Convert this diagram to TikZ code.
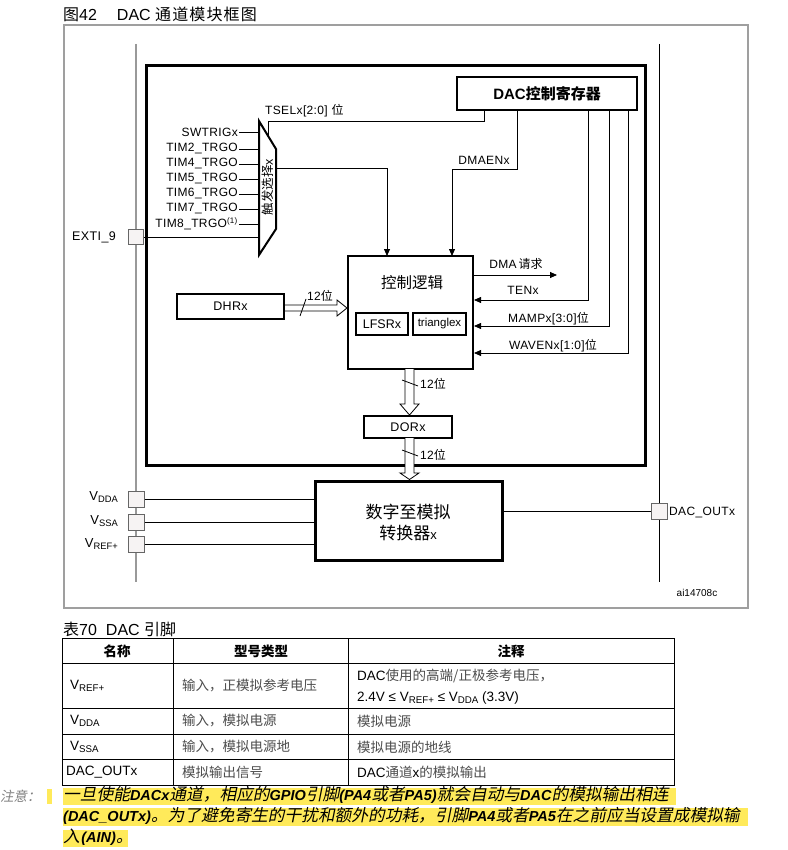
\documentclass[tikz,border=0pt]{standalone}
\usepackage{fontspec}
\setmainfont{Liberation Sans}
\newfontfamily\lbfont{Liberation Sans}[LetterSpace=3]
\newfontfamily\cjk{Noto Sans CJK SC}
\newfontfamily\cjksp{Noto Sans CJK SC}[LetterSpace=7]
\newfontfamily\cjkit{Noto Sans CJK SC}[FakeSlant=0.2]
\usetikzlibrary{arrows.meta}
\newcommand\zh[1]{{\cjk #1}}
\newcommand\zhs[1]{{\cjksp #1}}
\newcommand\zhg[1]{{\color{black!70}\cjk #1}}
\newcommand\zi[1]{{\cjkit #1}}
\newcommand\li[1]{{\fontsize{14.5}{15}\selectfont\bfseries\itshape #1}}
\newcommand\sbx[1]{\raisebox{-0.3ex}{\scalebox{0.72}{#1}}}
\definecolor{hl}{RGB}{255,234,90}
\definecolor{pinfill}{RGB}{246,243,243}
\begin{document}
\begin{tikzpicture}[x=1pt,y=-1pt,
  wire/.style={line width=0.8pt},
  arr/.style={-{Triangle[length=7pt,width=6pt]}},
  blk/.style={draw, line width=2pt, inner sep=0pt},
  pinbox/.style={draw=gray!80!black, fill=pinfill, line width=1pt, minimum size=16pt, inner sep=0pt},
  lbl/.style={font=\lbfont\fontsize{12}{14}\selectfont, inner sep=1pt},
  tbl/.style={font=\fontsize{13.5}{16}\selectfont, inner sep=0pt},
  bus/.style={line width=0.8pt, fill=white},
  note/.style={anchor=west, inner sep=0pt, font=\fontsize{16.7}{21}\selectfont, text height=12pt, text depth=3pt},
  ]
\useasboundingbox (0,0) rectangle (787,850);
\fill[white] (0,0) rectangle (787,850);

% title
\node[anchor=west, font=\fontsize{16}{18}\selectfont, inner sep=0pt] (title) at (63,14) {\zh{图}42\hspace{20pt}DAC \zhs{通道模块框图}};

% frames
\draw[gray!75, line width=1.5pt] (64,25) rectangle (748,608);
\draw[gray!80, line width=1.2pt] (136,44) -- (136,582);
\draw[line width=0.9pt] (659,44) -- (659,582);
\draw[line width=3pt] (146,66) rectangle (645,465);

% register
\node[blk, line width=2.5pt, minimum width=180pt, minimum height=33pt, font=\fontsize{15}{17}\selectfont\bfseries] (reg) at (547,93.5) {DAC\zh{控制寄存器}};

% mux
\draw[line width=2pt] (259,121) -- (276,149) -- (276,229) -- (259,255) -- cycle;
\node[rotate=90, font=\fontsize{12.5}{14}\selectfont, inner sep=0pt] (muxlbl) at (268,187) {\zh{触发选择}x};
\foreach \t/\y/\n in {SWTRIGx/132/i0, TIM2\_TRGO/149/i1, TIM4\_TRGO/164/i2, TIM5\_TRGO/179/i3, TIM6\_TRGO/194/i4, TIM7\_TRGO/209/i5, TIM8\_TRGO\textsuperscript{(1)}/224/i6}{
  \node[lbl, anchor=east] (\n) at (239,\y) {\t};
  \draw[wire] (\n.east) -- (259,\y);
}
\node[pinbox, minimum size=15pt] (pexti) at (136,237) {};
\node[lbl, anchor=east, font=\lbfont\fontsize{12.5}{14}\selectfont] (lexti) at (117,237) {EXTI\_9};
\coordinate (muxexti) at (259,237);
\draw[wire] (pexti.east) -- (muxexti);

% TSEL
\coordinate (tselTop) at (484,110);
\coordinate (tselBend) at (268,121);
\coordinate (muxsel) at (268,135);
\draw[wire] (tselTop) |- (tselBend) -- (muxsel);
\node[lbl, anchor=west] (tsel) at (264,111) {TSELx[2:0] \zh{位}};

% control logic
\node[blk, minimum width=125pt, minimum height=113pt] (ctrl) at (410.5,312.5) {};
\node[font=\fontsize{15.5}{17}\selectfont, inner sep=0pt] (ctrllbl) at (412,283) {\zh{控制逻辑}};
\node[blk, line width=2.5pt, minimum width=52pt, minimum height=22pt, font=\fontsize{12.5}{14}\selectfont] (lfsr) at (382,324) {LFSRx};
\node[blk, line width=2.5pt, minimum width=53pt, minimum height=22pt, font=\fontsize{11.5}{14}\selectfont] (tri) at (439.5,324) {trianglex};

% mux output / DMAEN
\coordinate (muxout) at (276,168);
\coordinate (cin1) at (387,256);
\draw[wire, arr] (muxout) -| (cin1);
\coordinate (dmaenTop) at (517,110);
\coordinate (dmaBend) at (452,169);
\coordinate (cin2) at (452,256);
\draw[wire, arr] (dmaenTop) |- (dmaBend) -- (cin2);
\node[lbl] (ldmaen) at (484,160) {DMAENx};

% register outputs
\coordinate (tenTop) at (588,110);
\coordinate (mampTop) at (609,110);
\coordinate (wavTop) at (628,110);
\draw[wire, arr] (tenTop) |- (ctrl.east |- 0,300);
\draw[wire, arr] (mampTop) |- (ctrl.east |- 0,326);
\draw[wire, arr] (wavTop) |- (ctrl.east |- 0,353);
\node[lbl] (lten) at (523,290) {TENx};
\node[lbl, anchor=west] (lmamp) at (507,319) {MAMPx[3:0]\zh{位}};
\node[lbl, anchor=west] (lwav) at (508,346) {WAVENx[1:0]\zh{位}};
\coordinate (dmareq) at (557,275);
\draw[wire, arr] (ctrl.east |- dmareq) -- (dmareq);
\node[lbl] (ldmareq) at (516,264) {DMA\,\zh{请求}};

% DHR
\node[blk, minimum width=107pt, minimum height=25pt, font=\lbfont\fontsize{12.5}{14}\selectfont] (dhr) at (230.5,306.5) {DHRx};
\draw[bus] (dhr.east |- 0,305) -- (337,305) -- (337,300) -- (ctrl.west |- 0,308) -- (337,316) -- (337,311) -- (dhr.east |- 0,311);
\draw[wire] (300,316) -- (306,299);
\node[lbl] (l12a) at (320,296) {12\zh{位}};

% DOR
\node[blk, minimum width=88pt, minimum height=22pt, font=\lbfont\fontsize{12.5}{14}\selectfont] (dor) at (408,427) {DORx};
\draw[bus] (405,369) -- (405,404) -- (400,404) -- (dor.north -| 409.5,0) -- (419,404) -- (414,404) -- (414,369);
\draw[wire] (402,380) -- (418,386);
\node[lbl, anchor=west] (l12b) at (419,384) {12\zh{位}};

% DAC
\node[blk, line width=3pt, minimum width=187pt, minimum height=79pt] (dac) at (408.5,520.5) {};
\node[align=center, font=\fontsize{17}{21}\selectfont, inner sep=0pt] (daclbl) at (408,522) {\zh{数字至模拟}\\\zh{转换器}{\fontsize{13}{13}\selectfont x}};
\draw[bus] (405,438) -- (405,473) -- (400,473) -- (dac.north -| 409.5,0) -- (419,473) -- (414,473) -- (414,438);
\draw[wire] (402,450) -- (418,456);
\node[lbl, anchor=west] (l12c) at (419,455) {12\zh{位}};

% pins
\node[pinbox] (pdda) at (136,499) {};
\node[pinbox] (pssa) at (136,522) {};
\node[pinbox] (pref) at (136,544) {};
\node[lbl, anchor=east, font=\fontsize{13}{14}\selectfont] (ldda) at (119,497) {V\sbx{DDA}};
\node[lbl, anchor=east, font=\fontsize{13}{14}\selectfont] (lssa) at (119,521) {V\sbx{SSA}};
\node[lbl, anchor=east, font=\fontsize{13}{14}\selectfont] (lref) at (119,544) {V\sbx{REF+}};
\draw[wire] (pdda.east) -- (pdda.east -| dac.west);
\draw[wire] (pssa.east) -- (pssa.east -| dac.west);
\draw[wire] (pref.east) -- (pref.east -| dac.west);
\node[pinbox] (pout) at (659,511.5) {};
\draw[wire] (pout.west -| dac.east) -- (pout.west);
\node[lbl, anchor=west] (lout) at (668,512) {DAC\_OUTx};
\node[font=\fontsize{10}{12}\selectfont, inner sep=0pt] (aid) at (697,593) {ai14708c};

% table
\node[anchor=west, font=\fontsize{16}{18}\selectfont, inner sep=0pt] (ttitle) at (63,629) {\zh{表}70\hspace{9pt}DAC \zh{引脚}};
\draw[line width=1pt] (62,638) rectangle (674,785);
\foreach \y in {663,708,734,759} \draw[line width=1pt] (62,\y) -- (674,\y);
\draw[line width=1pt] (173,638) -- (173,785);
\draw[line width=1pt] (348,638) -- (348,785);
\node[tbl] (h1) at (117,651) {\bfseries\zh{名称}};
\node[tbl] (h2) at (261,651) {\bfseries\zh{型号类型}};
\node[tbl] (h3) at (511,651) {\bfseries\zh{注释}};
\node[tbl, anchor=west] (r1a) at (70,686) {V\sbx{REF+}};
\node[tbl, anchor=west] (r1b) at (182,686) {\zhg{输入，正模拟参考电压}};
\node[tbl, anchor=west] (r1c) at (357,676) {DAC\zhg{使用的高端/正极参考电压，}};
\node[tbl, anchor=west] (r1d) at (357,698) {2.4V ≤ V\sbx{REF+} ≤ V\sbx{DDA} (3.3V)};
\node[tbl, anchor=west] (r2a) at (70,721) {V\sbx{DDA}};
\node[tbl, anchor=west] (r2b) at (182,721) {\zhg{输入，模拟电源}};
\node[tbl, anchor=west] (r2c) at (357,721) {\zhg{模拟电源}};
\node[tbl, anchor=west] (r3a) at (70,747) {V\sbx{SSA}};
\node[tbl, anchor=west] (r3b) at (182,747) {\zhg{输入，模拟电源地}};
\node[tbl, anchor=west] (r3c) at (357,747) {\zhg{模拟电源的地线}};
\node[tbl, anchor=west] (r4a) at (66,772) {DAC\_OUTx};
\node[tbl, anchor=west] (r4b) at (182,772) {\zhg{模拟输出信号}};
\node[tbl, anchor=west] (r4c) at (357,772) {DAC\zhg{通道}x\zhg{的模拟输出}};

% note
\node[anchor=west, inner sep=0pt, font=\fontsize{13.5}{15}\selectfont, text=gray] (zhuyi) at (0,796) {\zi{注意：}};
\fill[hl] (47,789) rectangle (52,804);
\fill[hl] (63,788) rectangle (676,805);
\fill[hl] (63,808) rectangle (748,826);
\fill[hl] (63,830) rectangle (128,847);
\node[note] (n1) at (63,796) {\zi{一旦使能}\li{DACx}\zi{通道，相应的}\li{GPIO}\zi{引脚}\li{(PA4}\zi{或者}\li{PA5)}\zi{就会自动与}\li{DAC}\zi{的模拟输出相连}};
\node[note] (n2) at (63,817) {\li{(DAC\_OUTx)}\zi{。为了避免寄生的干扰和额外的功耗，引脚}\li{PA4}\zi{或者}\li{PA5}\zi{在之前应当设置成模拟输}};
\node[note] (n3) at (63,838) {\zi{入}\hspace{1.5pt}\li{(AIN)}\zi{。}};
\end{tikzpicture}
\end{document}
